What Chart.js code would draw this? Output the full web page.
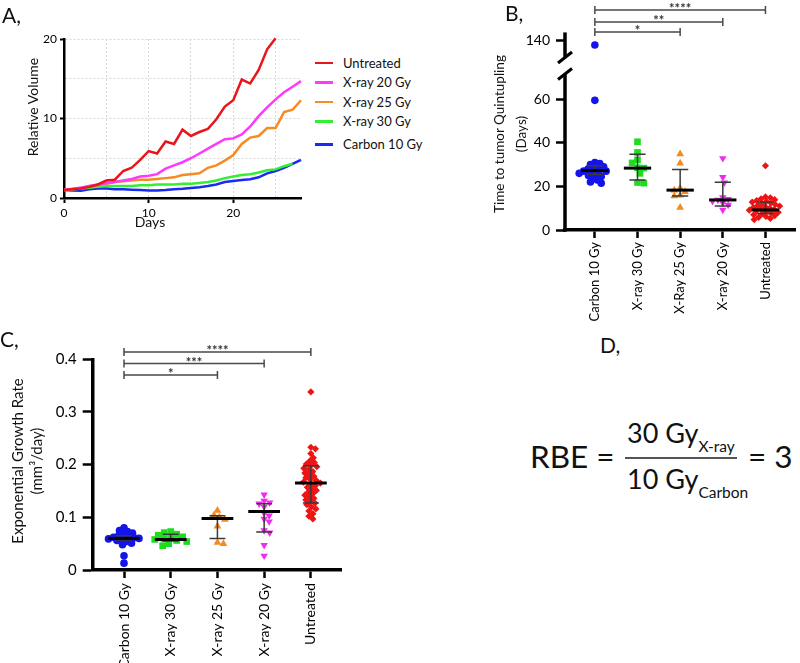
<!DOCTYPE html>
<html><head><meta charset="utf-8">
<script src="https://cdn.jsdelivr.net/npm/chart.js@4.4.1/dist/chart.umd.min.js"></script>
<style>
html,body{margin:0;padding:0;background:#fff;}
body{width:800px;height:663px;overflow:hidden;position:relative;font-family:Lato,'Open Sans',sans-serif;color:#111;}
canvas{position:absolute;}
.t{position:absolute;white-space:nowrap;line-height:1;}
.vt{position:absolute;white-space:nowrap;text-align:center;transform:translate(-50%,-50%) rotate(-90deg);}
.pl{position:absolute;font-size:21px;line-height:21px;color:#111;}
#legA{position:absolute;left:315px;top:53px;font-size:13px;color:#111;}
#legA .row{height:19.5px;display:flex;align-items:center;white-space:nowrap;}
#legA .sw{width:18px;height:2.5px;margin-right:10px;}
</style></head>
<body>
<canvas id="cA" width="310" height="235" style="left:0;top:0"></canvas>
<canvas id="cB" width="370" height="330" style="left:430px;top:0"></canvas>
<canvas id="cC" width="380" height="333" style="left:0;top:330px"></canvas>

<div class="pl" style="left:2px;top:3.5px">A,</div>
<div class="pl" style="left:505px;top:1.5px">B,</div>
<div class="pl" style="left:0px;top:327.5px">C,</div>
<div class="pl" style="left:600px;top:333.5px">D,</div>

<div class="vt" style="left:32px;top:107px;font-size:14px;">Relative Volume</div>
<div class="t" style="left:150px;top:215px;font-size:14px;transform:translateX(-50%);">Days</div>
<div id="legA"></div>

<div class="vt" style="left:510px;top:134px;font-size:13.5px;line-height:22px;">Time to tumor Quintupling<br>(Days)</div>
<div class="vt" style="left:26.5px;top:461px;font-size:15px;line-height:19px;">Exponential Growth Rate<br>(mm³/day)</div>

<!-- Panel D -->
<div class="t" style="left:530px;top:440.6px;font-size:31.5px;">RBE =</div>
<div class="t" style="left:627px;top:419px;font-size:27px;">30 Gy<span style="font-size:15.5px;position:relative;top:9px;">X-ray</span></div>
<div style="position:absolute;left:625px;top:457px;width:112px;height:1.5px;background:#555;"></div>
<div class="t" style="left:627px;top:465.4px;font-size:27px;">10 Gy<span style="font-size:15.5px;position:relative;top:8.7px;">Carbon</span></div>
<div class="t" style="left:748px;top:441px;font-size:31.5px;">= 3</div>

<script>
// ================= Panel A data =================
const aDays = [0,1,2,3,4,5,6,7,8,9,10,11,12,13,14,15,16,17,18,19,20,21,22,23,24,25,26,27,28];
const aSeriesNames = ['Untreated','X-ray 20 Gy','X-ray 25 Gy','X-ray 30 Gy','Carbon 10 Gy'];
const aUntreated = [1.0,1.1,1.2,1.4,1.7,2.2,2.3,3.4,3.8,4.8,5.9,5.6,7.1,6.8,8.6,7.8,8.3,8.7,9.9,11.5,12.3,14.9,14.4,16.1,18.7,20.1,null,null,null];
const aXray20    = [1.0,1.15,1.3,1.5,1.7,1.85,2.0,2.2,2.4,2.7,2.8,3.0,3.7,4.1,4.5,5.0,5.6,6.2,6.8,7.4,7.5,8.0,9.0,10.3,11.4,12.4,13.3,14.0,14.7];
const aXray25    = [1.0,1.1,1.3,1.5,1.6,1.8,2.0,2.1,2.2,2.3,2.3,2.4,2.5,2.6,2.9,3.0,3.1,3.8,4.1,4.7,5.4,6.8,7.6,7.8,8.8,8.8,10.8,11.1,12.3];
const aXray30    = [1.0,1.1,1.2,1.3,1.4,1.5,1.5,1.5,1.5,1.6,1.6,1.7,1.7,1.7,1.8,1.8,1.9,2.0,2.2,2.5,2.7,2.9,3.0,3.2,3.5,3.6,4.0,4.3,null];
const aCarbon10  = [1.0,0.95,0.9,1.1,1.2,1.2,1.1,1.1,1.05,1.0,0.95,0.95,1.0,1.1,1.15,1.25,1.35,1.5,1.7,2.0,2.15,2.25,2.35,2.6,3.1,3.4,3.8,4.3,4.8];
const aColors = ['#e8161b','#ff38ff','#f78b22','#33ee33','#1a2af5'];

// ================= Panel B data =================
const bCategories = ['Carbon 10 Gy','X-ray 30 Gy','X-Ray 25 Gy','X-ray 20 Gy','Untreated'];
const bCarbon10 = [31,30.5,30,29,28.5,28,27.5,27,27,26.5,26,25.5,25,24.5,24,23,22,21.5,59.5];
const bCarbon10High = [138];
const bXray30 = [40.5,35.6,32.2,30.8,28.6,28.4,26,21.8,21.5];
const bXray25 = [34.9,30.6,19.2,18.3,17.6,16,15.6,10.3];
const bXray20 = [32.9,24.2,21.7,15,14.2,13.8,13.2,12.4,11.5,9.2];
const bUntreated = [29.5,15.2,14.8,14.3,13.9,13.5,13.1,12.8,12.4,12.1,11.7,11.3,11.0,10.6,10.3,10.0,9.7,9.4,9.1,8.8,8.5,8.1,7.8,7.4,7.0,6.6,6.2,5.8,5.3,4.8];
const bMedian  = [27.3,28.4,18.3,13.8,9.2];
const bErrLow  = [25.5,23.0,15.6,11.0,7.6];
const bErrHigh = [29.5,34.8,27.8,21.9,12.8];
const bLowerTicks = [0,20,40,60];
const bUpperTicks = [140];
const bSigTo = [2,3,4];
const bSigLevel = [144.0,148.6,154.1];
const bSigStars = ['*','**','****'];

// ================= Panel C data =================
const cCategories = ['Carbon 10 Gy','X-ray 30 Gy','X-ray 25 Gy','X-ray 20 Gy','Untreated'];
const cCarbon10 = [0.080,0.075,0.073,0.070,0.067,0.065,0.063,0.062,0.061,0.060,0.059,0.058,0.056,0.054,0.051,0.048,0.027,0.013];
const cXray30 = [0.073,0.071,0.068,0.066,0.063,0.061,0.059,0.058,0.056,0.054,0.050,0.046];
const cXray25 = [0.113,0.104,0.100,0.096,0.083,0.052,0.050];
const cXray20 = [0.143,0.131,0.128,0.126,0.120,0.108,0.103,0.097,0.092,0.075,0.071,0.047,0.027];
const cUntreated = [0.338,0.233,0.230,0.221,0.213,0.207,0.204,0.201,0.198,0.196,0.193,0.190,0.187,0.184,0.181,0.178,0.175,0.172,0.170,0.167,0.165,0.163,0.160,0.157,0.154,0.151,0.148,0.145,0.142,0.139,0.136,0.133,0.130,0.127,0.124,0.120,0.116,0.112,0.107,0.102,0.097];
const cMedian  = [0.060,0.058,0.098,0.111,0.165];
const cErrLow  = [0.057,0.055,0.060,0.072,0.127];
const cErrHigh = [0.065,0.068,0.103,0.126,0.198];
const cSigTo = [2,3,4];
const cSigLevel = [0.370,0.392,0.414];
const cSigStars = ['*','***','****'];

// ================= styles =================
const ptColors = ['#1414ea','#1fdc1f','#f58a1f','#ee2cee','#ee1414'];
const ptShapes = ['circle','rect','triangle','triangle','rectRot'];
const ptRot = [0,0,0,180,0];
const ptRadius = [3.8,4.7,4.5,4.3,3.6];

Chart.defaults.font.family = 'Lato';
Chart.defaults.color = '#000';
Chart.defaults.animation = false;

// deterministic, bounded beeswarm layout (offset in category units)
function swarm(values, pxPerUnit, diam, catPx, maxPx){
  const order = values.map((v,i)=>i).sort((a,b)=>values[b]-values[a]);
  const placed = []; const off = new Array(values.length).fill(0);
  let flip = 1;
  for (const i of order){
    const y = values[i]*pxPerUnit;
    let chosen = null, best = -1, bestC = 0;
    for (let k=0;k<=maxPx;k+=0.5){
      const cands = k===0?[0]:[flip*k,-flip*k];
      for (const c of cands){
        const md = placed.length?Math.min(...placed.map(p=>Math.hypot(p.x-c,p.y-y))):Infinity;
        if (md>=diam){chosen=c;break;}
        if (md>best){best=md;bestC=c;}
      }
      if (chosen!==null) break;
    }
    if (chosen===null) chosen = bestC;
    flip = -flip;
    placed.push({x:chosen,y});
    off[i] = chosen/catPx;
  }
  return off;
}

function errorBarPlugin(med, lo, hi, yId, halfMed, halfCap){
  return {id:'errbars', afterDatasetsDraw(chart){
    const ctx = chart.ctx, xs = chart.scales.x, ys = chart.scales[yId];
    ctx.save();
    med.forEach((m,i)=>{
      const cx = xs.getPixelForValue(i);
      const cl = xs.getPixelForValue(i-halfCap), cr = xs.getPixelForValue(i+halfCap);
      const yl = ys.getPixelForValue(lo[i]), yh = ys.getPixelForValue(hi[i]);
      ctx.strokeStyle = '#3a3a3a'; ctx.lineWidth = 1.5;
      ctx.beginPath();
      ctx.moveTo(cx,yl); ctx.lineTo(cx,yh);
      ctx.moveTo(cl,yl); ctx.lineTo(cr,yl);
      ctx.moveTo(cl,yh); ctx.lineTo(cr,yh);
      ctx.stroke();
      const ym = ys.getPixelForValue(m);
      ctx.strokeStyle = '#000'; ctx.lineWidth = 3;
      ctx.beginPath();
      ctx.moveTo(xs.getPixelForValue(i-halfMed),ym); ctx.lineTo(xs.getPixelForValue(i+halfMed),ym);
      ctx.stroke();
    });
    ctx.restore();
  }};
}
function sigPlugin(to, level, stars, yId){
  return {id:'sig', afterDraw(chart){
    const ctx = chart.ctx, xs = chart.scales.x, ys = chart.scales[yId];
    ctx.save();
    ctx.strokeStyle = '#4a4a4a'; ctx.fillStyle = '#333'; ctx.lineWidth = 1.5;
    ctx.font = 'bold 13px Lato'; ctx.textAlign = 'center'; ctx.textBaseline = 'alphabetic';
    to.forEach((t,k)=>{
      const x0 = xs.getPixelForValue(0), x1 = xs.getPixelForValue(t), y = ys.getPixelForValue(level[k]);
      ctx.beginPath();
      ctx.moveTo(x0,y); ctx.lineTo(x1,y);
      ctx.moveTo(x0,y-4); ctx.lineTo(x0,y+4);
      ctx.moveTo(x1,y-4); ctx.lineTo(x1,y+4);
      ctx.stroke();
      ctx.fillText(stars[k],(x0+x1)/2,y+3);
    });
    ctx.restore();
  }};
}

// ================= Chart A =================
const aSeries = [aUntreated,aXray20,aXray25,aXray30,aCarbon10];
new Chart(document.getElementById('cA'),{
  type:'line',
  data:{
    labels:aDays,
    datasets:aSeries.map((s,i)=>({
      label:aSeriesNames[i],
      data:aDays.map((d,j)=>({x:d,y:s[j]})),
      borderColor:aColors[i], backgroundColor:aColors[i],
      borderWidth:2.5, pointRadius:0, tension:0, clip:false, spanGaps:false
    }))
  },
  options:{
    responsive:false, events:[],
    layout:{padding:{left:0,top:39,right:9,bottom:0}},
    plugins:{legend:{display:false},tooltip:{enabled:false}},
    scales:{
      x:{type:'linear',min:0,max:28,
        afterFit:s=>{s.height=37;},
        ticks:{stepSize:5,includeBounds:false,font:{size:12},padding:3,maxRotation:0,
          callback:v=>v%10===0?String(v):''},
        grid:{color:c=>c.tick&&c.tick.value===0?'rgba(0,0,0,0)':'#d6d6d6',lineWidth:1,
          tickColor:c=>c.tick&&c.tick.value%10===0?'#000':'rgba(0,0,0,0)',tickLength:5,tickWidth:2,tickBorderDash:[]},
        border:{display:true,color:'#000',width:2.5,dash:[2,2]}
      },
      y:{type:'linear',min:0,max:20,
        afterFit:s=>{s.width=64;},
        ticks:{stepSize:5,includeBounds:false,font:{size:12},padding:3,
          callback:v=>v%10===0?String(v):''},
        grid:{color:c=>c.tick&&c.tick.value===0?'rgba(0,0,0,0)':'#d6d6d6',lineWidth:1,
          tickColor:c=>c.tick&&c.tick.value%10===0?'#000':'rgba(0,0,0,0)',tickLength:4,tickWidth:2,tickBorderDash:[]},
        border:{display:true,color:'#000',width:2.5,dash:[2,2]}
      }
    }
  }
});
// legend A
const leg = document.getElementById('legA');
aSeriesNames.forEach((n,i)=>{
  const r = document.createElement('div'); r.className='row';
  if (i===aSeriesNames.length-1) r.style.marginTop='3.5px';
  r.innerHTML = '<span class="sw" style="background:'+aColors[i]+'"></span><span>'+n+'</span>';
  leg.appendChild(r);
});

// ================= Chart B =================
const bGroups = [bCarbon10,bXray30,bXray25,bXray20,bUntreated];
const bDatasets = bGroups.map((vals,i)=>{
  const off = swarm(vals,2.18,ptRadius[i]*1.3,43.6,17);
  return {data:vals.map((v,j)=>({x:i+off[j],y:v})),
    backgroundColor:ptColors[i],borderColor:ptColors[i],borderWidth:0,
    pointStyle:ptShapes[i],rotation:ptRot[i],pointRadius:ptRadius[i],pointHoverRadius:ptRadius[i],clip:false};
});
bDatasets.push({data:bCarbon10High.map(v=>({x:0,y:v})),yAxisID:'yTop',
  backgroundColor:ptColors[0],borderColor:ptColors[0],borderWidth:0,pointStyle:'circle',
  pointRadius:ptRadius[0],pointHoverRadius:ptRadius[0],clip:false});

const bBreakPlugin = {id:'brk', afterDraw(chart){
  const ctx = chart.ctx, yl = chart.scales.y, yt = chart.scales.yTop, x = chart.chartArea.left;
  ctx.save(); ctx.strokeStyle='#000'; ctx.lineWidth=3.5;
  ctx.beginPath(); ctx.moveTo(x,yl.bottom+1.75); ctx.lineTo(x,yl.top); ctx.stroke();
  const ut = yt.getPixelForValue(143.8), ub = yt.getPixelForValue(132.3);
  ctx.beginPath(); ctx.moveTo(x,ut); ctx.lineTo(x,ub); ctx.stroke();
  ctx.lineWidth=3;
  ctx.beginPath(); ctx.moveTo(x-7,yl.top+5.5); ctx.lineTo(x+7,yl.top-5.5); ctx.stroke();
  ctx.beginPath(); ctx.moveTo(x-7,ub+5.5); ctx.lineTo(x+7,ub-5.5); ctx.stroke();
  ctx.restore();
}};

const yTickGrid = {drawOnChartArea:false,tickLength:9,tickWidth:2.5,tickColor:'#000',color:'#000'};
new Chart(document.getElementById('cB'),{
  type:'scatter',
  data:{datasets:bDatasets},
  options:{
    responsive:false, events:[],
    layout:{padding:{left:0,top:20,right:0,bottom:0}},
    plugins:{legend:{display:false},tooltip:{enabled:false}},
    scales:{
      x:{type:'linear',min:-0.7,max:4.7,
        afterFit:s=>{s.height=100;},
        afterBuildTicks:s=>{s.ticks=bCategories.map((c,i)=>({value:i}));},
        ticks:{autoSkip:false,minRotation:90,maxRotation:90,font:{size:13},padding:4,
          callback:v=>bCategories[v]!==undefined?bCategories[v]:''},
        grid:{drawOnChartArea:false,tickLength:8,tickWidth:2.5,tickColor:'#000'},
        border:{display:true,color:'#000',width:3.5}
      },
      y:{type:'linear',position:'left',stack:'b',stackWeight:156,min:0,max:71.6,
        afterFit:s=>{s.width=135;},
        afterBuildTicks:s=>{s.ticks=bLowerTicks.map(v=>({value:v}));},
        ticks:{font:{size:14},padding:6},
        grid:yTickGrid, border:{display:false}
      },
      yTop:{type:'linear',position:'left',stack:'b',stackWeight:54,min:124.7,max:149.5,
        afterFit:s=>{s.width=135;},
        afterBuildTicks:s=>{s.ticks=bUpperTicks.map(v=>({value:v}));},
        ticks:{font:{size:14},padding:6},
        grid:yTickGrid, border:{display:false}
      }
    }
  },
  plugins:[errorBarPlugin(bMedian,bErrLow,bErrHigh,'y',0.32,0.19), sigPlugin(bSigTo,bSigLevel,bSigStars,'yTop'), bBreakPlugin]
});

// ================= Chart C =================
const cGroups = [cCarbon10,cXray30,cXray25,cXray20,cUntreated];
const cDatasets = cGroups.map((vals,i)=>{
  const off = swarm(vals,527,ptRadius[i]*1.3,46.7,16);
  return {data:vals.map((v,j)=>({x:i+off[j],y:v})),
    backgroundColor:ptColors[i],borderColor:ptColors[i],borderWidth:0,
    pointStyle:ptShapes[i],rotation:ptRot[i],pointRadius:ptRadius[i],pointHoverRadius:ptRadius[i],clip:false};
});
new Chart(document.getElementById('cC'),{
  type:'scatter',
  data:{datasets:cDatasets},
  options:{
    responsive:false, events:[],
    layout:{padding:{left:0,top:29.3,right:38.3,bottom:0}},
    plugins:{legend:{display:false},tooltip:{enabled:false}},
    scales:{
      x:{type:'linear',min:-0.67,max:4.66,
        afterFit:s=>{s.height=93;},
        afterBuildTicks:s=>{s.ticks=cCategories.map((c,i)=>({value:i}));},
        ticks:{autoSkip:false,minRotation:90,maxRotation:90,font:{size:14},padding:5,
          callback:v=>cCategories[v]!==undefined?cCategories[v]:''},
        grid:{drawOnChartArea:false,tickLength:8,tickWidth:2.5,tickColor:'#000'},
        border:{display:true,color:'#000',width:3.5}
      },
      y:{type:'linear',min:0,max:0.4,
        afterFit:s=>{s.width=92.7;},
        ticks:{stepSize:0.1,font:{size:15},padding:6,callback:v=>v===0?'0':Number(v).toFixed(1)},
        grid:{drawOnChartArea:false,tickLength:10,tickWidth:2.5,tickColor:'#000'},
        border:{display:true,color:'#000',width:3.5}
      }
    }
  },
  plugins:[errorBarPlugin(cMedian,cErrLow,cErrHigh,'y',0.34,0.17), sigPlugin(cSigTo,cSigLevel,cSigStars,'y')]
});
</script>
</body></html>
